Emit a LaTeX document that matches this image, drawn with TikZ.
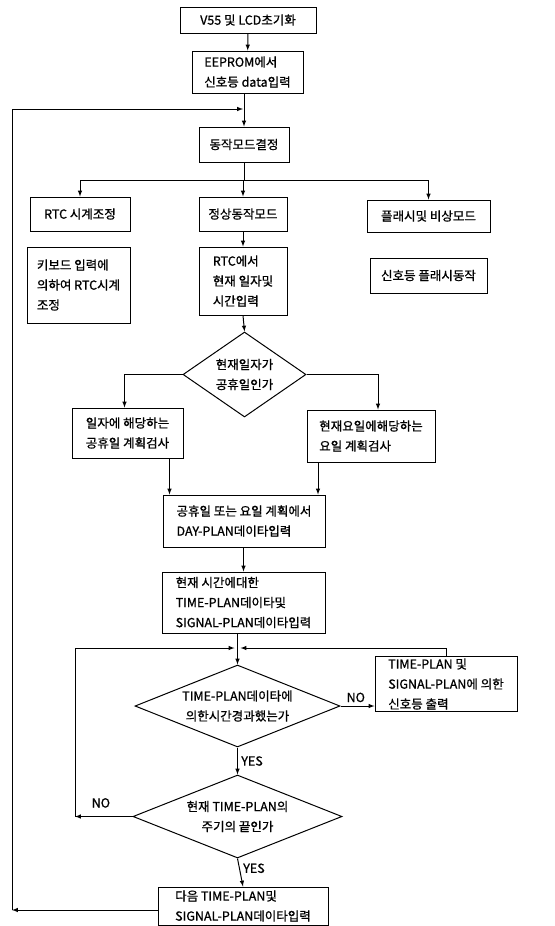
\documentclass[tikz,border=0pt]{standalone}
\usepackage{fontspec}
\setmainfont{Noto Sans CJK KR}[FakeBold=0.9]
\usepackage{tikz}
\usetikzlibrary{arrows,shapes.geometric}

\begin{document}
\begin{tikzpicture}[x=1pt, y=-1pt, line width=1pt,
    font=\fontsize{12.5}{20}\selectfont,
    box/.style={draw, align=left, inner sep=2pt},
    dia/.style={draw, diamond, inner sep=0pt},
    flow/.style={-latex}]
\useasboundingbox (0,0) rectangle (554,926);
% top part
\node[box, minimum width=136, minimum height=26] (init) at (248,20) {V55 및 LCD초기화};
\node[box, minimum width=111, minimum height=42] (eeprom) at (247.5,72) {EEPROM에서\\신호등 data입력};
\node[box, minimum width=90, minimum height=35] (mode) at (244,144.5) {동작모드결정};
\node[box, minimum width=100, minimum height=34] (rtc) at (80,214) {RTC 시계조정};
\node[box, minimum width=88, minimum height=34] (normal) at (243,214) {정상동작모드};
\node[box, minimum width=123, minimum height=32] (flash) at (428.5,216) {플래시및 비상모드};
\node[box, minimum width=103, minimum height=76] (kbd) at (78.5,285) {키보드 입력에\\의하여 RTC시계\\조정};
\node[box, minimum width=88, minimum height=68] (rtcin) at (243,281) {RTC에서\\현재 일자및\\시간입력};
\node[box, minimum width=117, minimum height=35] (flashact) at (428.5,275.5) {신호등 플래시동작};
% day plan
\node[dia, minimum width=123, minimum height=85, label={[align=center]center:현재일자가\\공휴일인가}] (hol) at (244.5,374.5) {};
\node[box, minimum width=111, minimum height=50] (holchk) at (127.5,433) {일자에 해당하는\\공휴일 계획검사};
\node[box, minimum width=128, minimum height=52] (daychk) at (371,436) {현재요일에해당하는\\요일 계획검사};
\node[box, minimum width=162, minimum height=52] (dayplan) at (244,521) {공휴일 또는 요일 계획에서\\DAY-PLAN데이타입력};
\node[box, minimum width=163, minimum height=61] (sigin) at (243.5,602.5) {현재 시간에대한\\TIME-PLAN데이타및\\SIGNAL-PLAN데이타입력};
% time plan loop
\node[dia, minimum width=205, minimum height=82, label={[align=center]center:TIME-PLAN데이타에\\의한시간경과했는가}] (dec1) at (237.5,706) {};
\node[box, minimum width=142, minimum height=52] (out) at (446,684) {TIME-PLAN 및\\SIGNAL-PLAN에 의한\\신호등 출력};
\node[dia, minimum width=209, minimum height=83, label={[align=center]center:현재 TIME-PLAN의\\주기의 끝인가}] (dec2) at (237.5,816.5) {};
\node[box, minimum width=170, minimum height=38] (next) at (243,906) {다음 TIME-PLAN및\\SIGNAL-PLAN데이타입력};
\coordinate (loopt) at (12,109);
\coordinate (loopb) at (12,910);
\coordinate (br) at (244,180);
\coordinate (join) at (237.5,648);
\coordinate (nol) at (75,816.5);

\draw[flow] (init) -- (eeprom);
\draw[flow] (mode.north |- eeprom.south) -- (mode.north);
\draw[flow] (next.west |- loopb) -- (loopb);
\draw[flow] (loopb) -- (loopt) -- ([xshift=-1]mode.north |- loopt);
\draw (mode.south) -- (br);
\draw (rtc.north |- br) -- (flash.north |- br);
\foreach \n in {rtc, normal, flash}
    \draw[flow] (\n.north |- br) -- (\n.north);
\draw[flow] (normal) -- (rtcin);
\draw[flow] (rtcin.south) -- (hol.north);
\draw[flow] (hol.west) -| ([xshift=-3]holchk.north);
\draw[flow] (hol.east) -| ([xshift=7]daychk.north);
\draw[flow] ([xshift=42]holchk.south) -- ([xshift=42]holchk.south |- dayplan.north);
\draw[flow] ([xshift=-53]daychk.south) -- ([xshift=-53]daychk.south |- dayplan.north);
\draw[flow] (dayplan.south -| sigin.north) -- (sigin.north);
\draw[flow] (sigin.south -| dec1.north) -- (dec1.north);
\draw[flow] (dec1.east) -- node[above, pos=0.45] {NO} (dec1.east -| out.west);
\draw[flow] (out.north) -- (out.north |- join) -- ([xshift=3]join);
\draw[flow] (dec1.south) -- node[right, pos=0.5] {YES} (dec2.north);
\draw[flow] (dec2.west) -- node[above, pos=0.55, yshift=5] {NO} (nol);
\draw[flow] (nol) -- (nol |- join) -- ([xshift=-3]join);
\draw[flow] (dec2.south) -- node[right, pos=0.35] {YES} (next.north);
\end{tikzpicture}
\end{document}
